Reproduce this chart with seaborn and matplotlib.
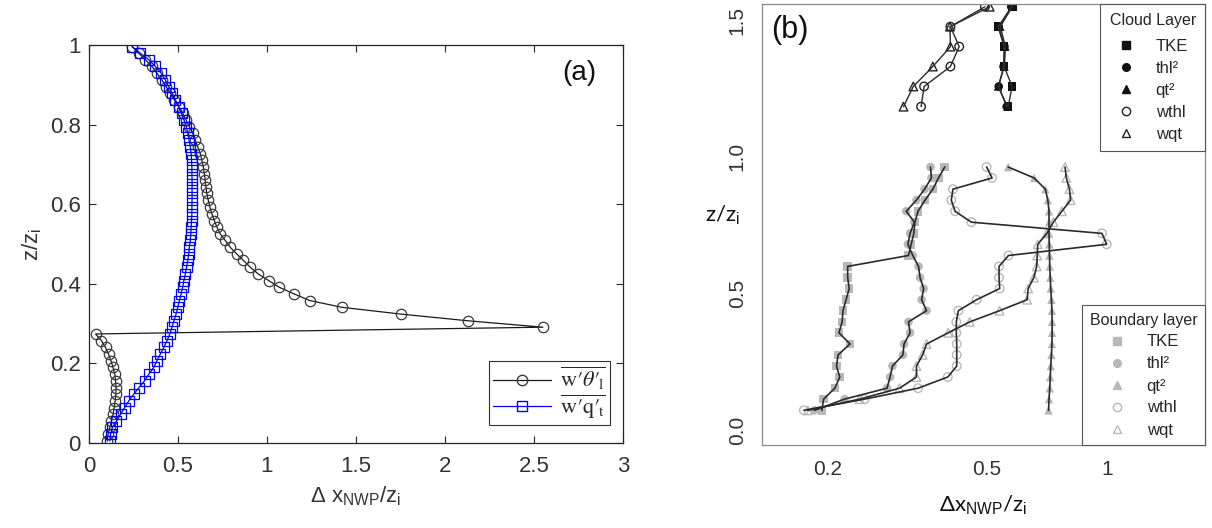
import numpy as np
import pandas as pd
import matplotlib
matplotlib.use("Agg")
import matplotlib.pyplot as plt
import seaborn as sns
from matplotlib.lines import Line2D
from matplotlib.font_manager import FontProperties
from matplotlib.ticker import FixedLocator, NullLocator, FixedFormatter

# ---------------- data: panel (a) ----------------
z_a = [0.005, 0.022, 0.039, 0.055, 0.072, 0.089, 0.106, 0.123, 0.139, 0.156,
       0.173, 0.190, 0.207, 0.223, 0.240, 0.257, 0.274, 0.291, 0.307, 0.324,
       0.341, 0.358, 0.375, 0.391, 0.408, 0.425, 0.442, 0.459, 0.475, 0.492,
       0.509, 0.526, 0.543, 0.559, 0.576, 0.593, 0.610, 0.627, 0.643, 0.660,
       0.677, 0.694, 0.711, 0.727, 0.744, 0.761, 0.778, 0.795, 0.811, 0.828,
       0.845, 0.862, 0.879, 0.895, 0.912, 0.929, 0.946, 0.963, 0.979, 0.996]
wthl_a = [0.103, 0.107, 0.117, 0.126, 0.135, 0.142, 0.147, 0.151, 0.152, 0.149,
          0.145, 0.135, 0.123, 0.110, 0.093, 0.070, 0.037,
          2.55, 2.13, 1.75, 1.42, 1.24, 1.15, 1.07, 1.01, 0.95, 0.905,
          0.867, 0.83, 0.793, 0.765, 0.737, 0.718, 0.704, 0.69, 0.679, 0.67,
          0.662, 0.657, 0.653, 0.648, 0.642, 0.634, 0.625, 0.611, 0.597, 0.583,
          0.564, 0.546, 0.527, 0.504, 0.48, 0.457, 0.434, 0.41, 0.382, 0.354,
          0.317, 0.28, 0.242]
wqt_a = [0.117, 0.121, 0.131, 0.154, 0.177, 0.200, 0.224, 0.252, 0.280, 0.312,
         0.336, 0.364, 0.382, 0.400, 0.420, 0.438,
         0.454, 0.466, 0.477, 0.489, 0.499, 0.508, 0.518, 0.526, 0.533, 0.541,
         0.548, 0.555, 0.560, 0.564, 0.569, 0.572, 0.574, 0.576, 0.578, 0.578,
         0.579, 0.579, 0.579, 0.579, 0.578, 0.578, 0.576, 0.574, 0.569, 0.562,
         0.555, 0.546, 0.534, 0.520, 0.504, 0.485, 0.466, 0.448, 0.429, 0.406,
         0.373, 0.336, 0.289, 0.242]
a_xticks = [0, 0.5, 1, 1.5, 2, 2.5, 3]
a_xticklabels = ["0", "0.5", "1", "1.5", "2", "2.5", "3"]
a_yticks = [0, 0.2, 0.4, 0.6, 0.8, 1]
a_yticklabels = ["0", "0.2", "0.4", "0.6", "0.8", "1"]

# ---------------- data: panel (b) ----------------
z_bl = [0.072, 0.113, 0.153, 0.194, 0.234, 0.275, 0.315, 0.356, 0.396, 0.437,
        0.477, 0.518, 0.558, 0.599, 0.639, 0.680, 0.720, 0.761, 0.801, 0.842,
        0.882, 0.923, 0.963]
tke_bl = [0.193, 0.195, 0.208, 0.214, 0.210, 0.212, 0.227, 0.213, 0.217, 0.218,
          0.222, 0.226, 0.224, 0.224, 0.318, 0.323, 0.328, 0.330, 0.336, 0.350,
          0.366, 0.378, 0.392]
thl2_bl = [0.185, 0.220, 0.281, 0.286, 0.290, 0.308, 0.310, 0.321, 0.318, 0.353,
           0.343, 0.347, 0.340, 0.337, 0.326, 0.317, 0.321, 0.329, 0.314, 0.333,
           0.349, 0.363, 0.361]
qt2_bl = [0.713, 0.715, 0.718, 0.720, 0.722, 0.725, 0.727, 0.728, 0.728, 0.727,
          0.725, 0.722, 0.720, 0.718, 0.717, 0.716, 0.715, 0.715, 0.715, 0.710,
          0.700, 0.656, 0.565]
wthl_bl = [0.174, 0.247, 0.336, 0.399, 0.420, 0.420, 0.420, 0.419, 0.419, 0.424,
           0.471, 0.538, 0.536, 0.536, 0.566, 0.997, 0.970, 0.457, 0.416, 0.407,
           0.411, 0.515, 0.499]
wqt_bl = [0.178, 0.240, 0.302, 0.333, 0.333, 0.345, 0.353, 0.400, 0.453, 0.538,
          0.630, 0.634, 0.655, 0.666, 0.668, 0.670, 0.706, 0.733, 0.770, 0.810,
          0.804, 0.790, 0.784]

z_cl = [1.184, 1.258, 1.331, 1.404, 1.477, 1.550]
tke_cl = [0.565, 0.578, 0.552, 0.552, 0.533, 0.580]
thl2_cl = [0.560, 0.535, 0.550, 0.553, 0.535, 0.575]
qt2_cl = [0.563, 0.533, 0.553, 0.556, 0.540, 0.578]
wthl_cl = [0.342, 0.348, 0.405, 0.426, 0.405, 0.494]
wqt_cl = [0.309, 0.327, 0.366, 0.405, 0.404, 0.508]

series_names = ["TKE", "thl²", "qt²", "wthl", "wqt"]
b_xticks = [0.2, 0.5, 1]
b_xticklabels = ["0.2", "0.5", "1"]
b_yticks = [0.0, 0.5, 1.0, 1.5]
b_yticklabels = ["0.0", "0.5", "1.0", "1.5"]

# ---------------- style ----------------
sns.set_theme(style="white")
plt.rcParams['font.family'] = ['Liberation Sans', 'DejaVu Sans']
plt.rcParams['mathtext.fontset'] = 'custom'
plt.rcParams['mathtext.rm'] = 'Liberation Sans'
plt.rcParams['mathtext.it'] = 'Liberation Sans:italic'
plt.rcParams['mathtext.bf'] = 'Liberation Sans:bold'

fig = plt.figure(figsize=(12.12, 5.28), dpi=100)

# ================= panel (a) =================
axa = fig.add_axes([89/1212, 1 - 443/528, 534/1212, 398/528])
dark = '#262626'
sns.lineplot(x=wthl_a, y=z_a, sort=False, estimator=None, ax=axa,
             color='#1a1a1a', lw=0.9, marker='o', markersize=7.5,
             markerfacecolor='none', markeredgecolor='#3a3a3a',
             markeredgewidth=0.9, legend=False)
sns.lineplot(x=wqt_a, y=z_a, sort=False, estimator=None, ax=axa,
             color='#0000ff', lw=0.9, marker='s', markersize=6.5,
             markerfacecolor='none', markeredgecolor='#0000ff',
             markeredgewidth=0.9, legend=False)
axa.set_xlim(0, 3)
axa.set_ylim(0, 1)
axa.set_xticks(a_xticks)
axa.set_xticklabels(a_xticklabels)
axa.set_yticks(a_yticks)
axa.set_yticklabels(a_yticklabels)
axa.tick_params(direction='in', length=5, width=0.8, colors=dark, labelsize=16,
                top=True, right=True, bottom=True, left=True, labelcolor='#333333')
axa.tick_params(axis='x', pad=9)
axa.tick_params(axis='y', pad=6)
for s in axa.spines.values():
    s.set_color(dark)
    s.set_linewidth(0.9)
axa.set_xlabel(r'Δ x$_{\mathrm{NWP}}$/z$_{\mathrm{i}}$', fontsize=16, color='#333333', labelpad=6)
axa.set_ylabel(r'z/z$_{\mathrm{i}}$', fontsize=16, color='#333333', labelpad=4)
axa.text(0.95, 0.93, '(a)', transform=axa.transAxes, ha='right', va='center',
         fontsize=20, color='#111111')
h_a = [Line2D([], [], color='#1a1a1a', lw=0.9, marker='o', markersize=7.5,
              markerfacecolor='none', markeredgecolor='#3a3a3a'),
       Line2D([], [], color='#0000ff', lw=0.9, marker='s', markersize=6.5,
              markerfacecolor='none', markeredgecolor='#0000ff')]
lab_a = [r"$\overline{\mathrm{w}\prime\theta\prime_{\!\mathrm{l}}}$",
         r"$\overline{\mathrm{w}\prime\mathrm{q}\prime_{\!\mathrm{t}}}$"]
fp = FontProperties(family='DejaVu Serif', size=16, math_fontfamily='stix')
lega = axa.legend(h_a, lab_a, loc='lower right', bbox_to_anchor=(0.976, 0.045),
                  prop=fp, frameon=True,
                  fancybox=False, edgecolor='#333333', framealpha=1,
                  borderaxespad=0.0, handlelength=2.6, handletextpad=0.4,
                  labelspacing=0.0, borderpad=0.2)
lega.get_frame().set_linewidth(0.8)

# ================= panel (b) =================
axb = fig.add_axes([762/1212, 1 - 445/528, 443/1212, 441/528])
axb.set_xscale('log')

gray = '#b8b8b8'
line_c = '#2a2a2a'
msz = 38
bl_data = [tke_bl, thl2_bl, qt2_bl, wthl_bl, wqt_bl]
cl_data = [tke_cl, thl2_cl, qt2_cl, wthl_cl, wqt_cl]
markers = ['s', 'o', '^', 'o', '^']
filled = [True, True, True, False, False]

for vals, m, f in zip(bl_data, markers, filled):
    if f:
        sns.scatterplot(x=vals, y=z_bl, marker=m, s=msz, color=gray,
                        edgecolor='none', linewidth=0, ax=axb, zorder=2, legend=False)
    else:
        sns.scatterplot(x=vals, y=z_bl, marker=m, s=msz, facecolor='none',
                        edgecolor=gray, linewidth=1.0, ax=axb, zorder=2, legend=False)
    sns.lineplot(x=vals, y=z_bl, sort=False, estimator=None, color=line_c,
                 lw=1.2, ax=axb, zorder=3, legend=False)

for vals, m, f in zip(cl_data, markers, filled):
    if f:
        sns.scatterplot(x=vals, y=z_cl, marker=m, s=msz, color='#111111',
                        edgecolor='none', linewidth=0, ax=axb, zorder=2, legend=False)
    else:
        sns.scatterplot(x=vals, y=z_cl, marker=m, s=msz, facecolor='none',
                        edgecolor='#222222', linewidth=1.0, ax=axb, zorder=2, legend=False)
    sns.lineplot(x=vals, y=z_cl, sort=False, estimator=None, color=line_c,
                 lw=1.0, ax=axb, zorder=3, legend=False)

axb.set_xlim(0.1367, 1.757)
axb.set_ylim(-0.055, 1.56)
axb.xaxis.set_major_locator(FixedLocator(b_xticks))
axb.xaxis.set_major_formatter(FixedFormatter(b_xticklabels))
axb.xaxis.set_minor_locator(NullLocator())
axb.set_yticks(b_yticks)
axb.set_yticklabels(b_yticklabels, rotation=90, va='center')
axb.tick_params(direction='out', length=6, width=0.8, color='#8a8a8a',
                labelsize=15, labelcolor='#333333')
axb.tick_params(axis='x', pad=5)
axb.tick_params(axis='y', pad=5)
for s in axb.spines.values():
    s.set_color('#8a8a8a')
    s.set_linewidth(0.9)

axb.set_xlabel(r'Δx$_{\mathrm{NWP}}$/z$_{\mathrm{i}}$', fontsize=16, color='#111111',
               fontfamily=['Lato', 'DejaVu Sans'], labelpad=10)
axb.set_ylabel(r'z/z$_{\mathrm{i}}$', fontsize=16, color='#111111', rotation=0,
               fontfamily=['Lato', 'DejaVu Sans'], va='center', ha='center')
axb.yaxis.set_label_coords(-0.09, 0.52)
axb.text(0.02, 0.94, '(b)', transform=axb.transAxes, ha='left', va='center',
         fontsize=22, color='#111111')


def legend_handles(col, open_col):
    hs = []
    for m, f in zip(markers, filled):
        if f:
            hs.append(Line2D([], [], linestyle='none', marker=m, markersize=5.5,
                             markerfacecolor=col, markeredgecolor=col))
        else:
            hs.append(Line2D([], [], linestyle='none', marker=m, markersize=6,
                             markerfacecolor='none', markeredgecolor=open_col,
                             markeredgewidth=1.0))
    return hs


leg_cl = axb.legend(legend_handles('#111111', '#222222'), series_names,
                    title='Cloud Layer', loc='upper right', borderaxespad=0,
                    fontsize=12, title_fontsize=11.5, frameon=True, fancybox=False,
                    edgecolor='#555555', framealpha=1, handlelength=1.0,
                    handletextpad=1.3, labelspacing=0.42, borderpad=0.55)
leg_cl.get_frame().set_linewidth(0.8)
leg_cl._legend_box.sep = 8
axb.add_artist(leg_cl)
leg_bl = axb.legend(legend_handles(gray, gray), series_names,
                    title='Boundary layer', loc='lower right', borderaxespad=0,
                    fontsize=12, title_fontsize=11.5, frameon=True, fancybox=False,
                    edgecolor='#555555', framealpha=1, handlelength=1.0,
                    handletextpad=1.3, labelspacing=0.42, borderpad=0.45)
leg_bl.get_frame().set_linewidth(0.8)

fig.savefig('out.png', dpi=100)
